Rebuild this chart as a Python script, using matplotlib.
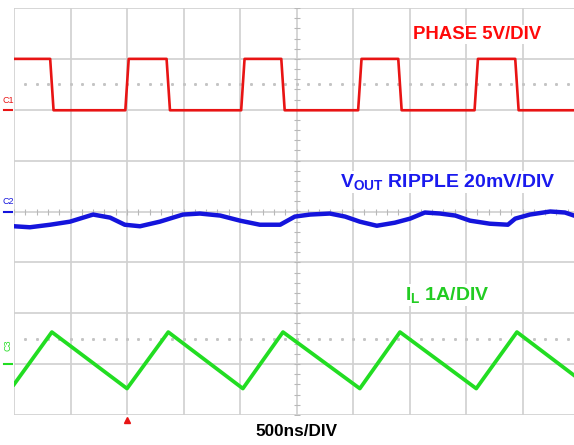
import numpy as np
import matplotlib
matplotlib.use("Agg")
import matplotlib.pyplot as plt
import matplotlib.transforms as mtransforms

plt.rcParams['font.family'] = ['Liberation Sans', 'DejaVu Sans']
plt.rcParams['mathtext.fontset'] = 'custom'
plt.rcParams['mathtext.bf'] = 'Liberation Sans:bold'
plt.rcParams['mathtext.rm'] = 'Liberation Sans'

# time axis in divisions (500ns/DIV), screen shows -5 .. ~4.9 div
t_start = -5.0
t_end = 4.91

# channel 1: switch node (PHASE), levels in divisions
phase_high = 3.0
phase_low = 1.99
phase_fall = [-4.33, -2.27, -0.24, 1.83, 3.90]
phase_rise = [-3.00, -0.95, 1.12, 3.18]

# channel 2: output ripple (div)
vout_t = [-5.0, -4.72, -4.36, -4.01, -3.60, -3.30, -3.04, -2.77, -2.42, -2.01,
          -1.71, -1.35, -1.00, -0.65, -0.29, -0.03, 0.24, 0.59, 0.86, 1.12,
          1.42, 1.74, 2.01, 2.27, 2.54, 2.81, 3.07, 3.42, 3.74, 3.87,
          4.13, 4.49, 4.75, 4.91]
vout_v = [-0.29, -0.31, -0.26, -0.20, -0.06, -0.12, -0.26, -0.29, -0.20, -0.06,
          -0.04, -0.08, -0.18, -0.26, -0.26, -0.10, -0.06, -0.04, -0.10, -0.20,
          -0.28, -0.22, -0.14, -0.02, -0.04, -0.08, -0.18, -0.24, -0.26, -0.14,
          -0.06, 0.00, -0.02, -0.08]

# channel 3: inductor current, corners (div)
il_t = [-5.0, -4.33, -3.00, -2.27, -0.95, -0.24, 1.12, 1.83, 3.18, 3.90, 4.91]
il_v = [-3.40, -2.37, -3.48, -2.37, -3.48, -2.37, -3.48, -2.37, -3.48, -2.37, -3.22]

red = '#e81414'
blue = '#1414dc'
green = '#22dd22'
grid_c = '#d0d0d0'

W, H = 574, 445
fig = plt.figure(figsize=(W / 100, H / 100), dpi=100)
ax = fig.add_axes([14 / W, (H - 415) / H, 1 - 14 / W, (415 - 8) / H])
ax.set_xlim(t_start, t_end)
ax.set_ylim(-4, 4)
for s in ax.spines.values():
    s.set_visible(False)
ax.set_xticks([])
ax.set_yticks([])

# graticule
for x in range(-5, 6):
    ax.axvline(x, color=grid_c, lw=1.2, zorder=0)
for y in range(-4, 5):
    ax.axhline(y, color=grid_c, lw=1.2, zorder=0)
# small ticks on center lines
mx = np.arange(-5, 5.01, 0.2)
ax.plot(mx, np.zeros_like(mx), ls='none', marker='|', ms=4, mew=0.8, color='#b8b8b8', zorder=0)
my = np.arange(-4, 4.01, 0.2)
ax.plot(np.zeros_like(my), my, ls='none', marker='_', ms=4, mew=0.8, color='#b8b8b8', zorder=0)
# dotted reference levels
dx = np.arange(-4.8, 5.0, 0.2)
for lvl in (2.5, -2.5):
    ax.plot(dx, np.full_like(dx, lvl), ls='none', marker='s', ms=1.1, color='#c4c4c4', zorder=0)

# build phase waveform from its edges
edges = sorted([(t, phase_low) for t in phase_fall] + [(t, phase_high) for t in phase_rise])
pt = [t_start]
pv = [phase_high]
lvl = phase_high
for t, new in edges:
    pt += [t - 0.03, t + 0.03]
    pv += [lvl, new]
    lvl = new
pt.append(t_end)
pv.append(lvl)
ax.plot(pt, pv, color=red, lw=1.9, zorder=3)

ax.plot(vout_t, vout_v, color=blue, lw=3.2, zorder=3)
ax.plot(il_t, il_v, color=green, lw=2.7, zorder=3)

# channel markers on the left
tr = mtransforms.blended_transform_factory(ax.transAxes, ax.transData)
for lab, lvl, c, rot in (('C1', phase_low, red, 0), ('C2', 0.0, blue, 0), ('C3', -3.0, green, 90)):
    ax.plot([-0.017, -0.003], [lvl, lvl], transform=tr, color=c, lw=1.5, clip_on=False)
    ax.text(-0.011, lvl + (0.1 if rot == 0 else 0.25), lab, transform=tr, color=c, fontsize=6.5,
            ha='center', va='bottom', rotation=rot, clip_on=False)

# trigger marker
ax.plot([-3.0], [-4.1], marker='^', ms=5, color=red, clip_on=False, zorder=4)

bbox = dict(facecolor='white', edgecolor='none', pad=1)
ax.text(3.19, 3.48, 'PHASE 5V/DIV', color='#ff0a0a', fontsize=13.4, fontweight='bold',
        ha='center', va='center', bbox=bbox, zorder=5)
ax.text(2.67, 0.58, r'$\mathbf{V_{OUT}}$ RIPPLE 20mV/DIV', color='#1a1aee', fontsize=14,
        fontweight='bold', ha='center', va='center', bbox=bbox, zorder=5)
ax.text(2.67, -1.64, r'$\mathbf{I_{L}}$ 1A/DIV', color='#22cc22', fontsize=14,
        fontweight='bold', ha='center', va='center', bbox=bbox, zorder=5)

fig.text(296 / W, 1 - 432 / H, '500ns/DIV', fontsize=12.3, fontweight='bold',
         ha='center', va='center', color='black')

fig.savefig('out.png', dpi=100, facecolor='white')
